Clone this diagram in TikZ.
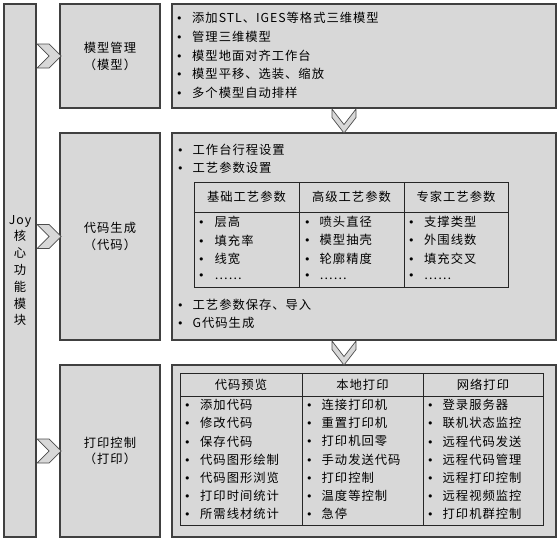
\documentclass[tikz,border=0pt]{standalone}
\usepackage{fontspec}
\setmainfont{Noto Sans CJK SC}[LetterSpace=8]
\newfontfamily\bulfont{DejaVu Sans}
\definecolor{boxgray}{RGB}{216,216,216}
\definecolor{edge}{RGB}{64,64,64}
\newcommand\fs{\fontsize{12.3}{16.8}\selectfont}
\newcommand\bul{{\bulfont\fontsize{11}{11}\selectfont •}}
% #1 name prefix, #2 bullet x, #3 text offset, #4 first y, #5 step, #6 items
\newcommand\itemlist[6]{%
  \foreach \t [count=\i] in {#6}{%
    \node[litem] (#1\i) at (#2, {#4+(\i-1)*#5}) {\makebox[#3][l]{\bul}\t};
  }}
\begin{document}
\begin{tikzpicture}[x=1pt,y=-1pt,
  box/.style={draw=edge, fill=boxgray, line width=1.1pt, inner sep=0pt, align=center, font=\fs, text=black},
  tbl/.style={draw=black!85, line width=0.9pt, inner sep=0pt},
  tline/.style={draw=black!85, line width=0.9pt},
  chev/.style={draw=black!70, fill=boxgray, line width=0.7pt, line join=miter},
  litem/.style={anchor=west, inner sep=0pt, font=\fs, text=black},
  hdr/.style={inner sep=0pt, font=\fs, text=black}]
\useasboundingbox (0,0) rectangle (560,542);

% left bar
\node[box, minimum width=32, minimum height=533] (core) at (20,270.5)
  {Joy\\核\\心\\功\\能\\模\\块};

% module boxes
\node[box, minimum width=100, minimum height=104] (b1) at (110,56) {模型管理\\（模型）};
\node[box, minimum width=100, minimum height=207] (b2) at (110,236.5) {代码生成\\（代码）};
\node[box, minimum width=100, minimum height=172] (b3) at (110,451) {打印控制\\（打印）};

% detail boxes
\node[box, minimum width=384, minimum height=104] (r1) at (364,56) {};
\node[box, minimum width=384, minimum height=207] (r2) at (364,236.5) {};
\node[box, minimum width=384, minimum height=172] (r3) at (364,451) {};

% right chevrons from core bar to module boxes
\foreach \b in {b1,b2,b3}{
  \draw[chev, shift={(core.east |- \b.west)}]
    (0.5,-12) -- (12.5,-12) -- (24.5,0) -- (12.5,12) -- (0.5,12) -- (12.5,0) -- cycle;
}
% down chevrons between detail boxes
\draw[chev, shift={(r1.south)}, xshift=-20pt]
  (-12,0.5) -- (0,16) -- (12,0.5) -- (12,9) -- (0,24.5) -- (-12,9) -- cycle;
\draw[chev, shift={(r2.south)}, xshift=-20pt]
  (-12,0.5) -- (0,16) -- (12,0.5) -- (12,9) -- (0,24.5) -- (-12,9) -- cycle;

% top list
\itemlist{a}{176}{16pt}{17.5}{18.9}{添加STL、IGES等格式三维模型,管理三维模型,模型地面对齐工作台,模型平移、选装、缩放,多个模型自动排样}

% middle
\itemlist{m}{177}{15.5pt}{150}{18}{工作台行程设置,工艺参数设置}
\itemlist{n}{177}{15.5pt}{305}{18}{工艺参数保存、导入,G代码生成}

\node[tbl, minimum width=314, minimum height=105] (t2) at (351,234.5) {};
\coordinate (t2h) at (194,212);
\draw[tline] (t2.west |- t2h) -- (t2.east |- t2h);
\draw[tline] (299,182) -- (299,287);
\draw[tline] (404,182) -- (404,287);
\node[hdr] (h21) at (246.5,197) {基础工艺参数};
\node[hdr] (h22) at (351.5,197) {高级工艺参数};
\node[hdr] (h23) at (456,197) {专家工艺参数};
\itemlist{p}{198}{16.5pt}{222}{18.3}{层高,填充率,线宽,……}
\itemlist{q}{304}{15.5pt}{222}{18.3}{喷头直径,模型抽壳,轮廓精度,……}
\itemlist{s}{408}{16pt}{222}{18.3}{支撑类型,外围线数,填充交叉,……}

% bottom table
\node[tbl, minimum width=363, minimum height=152] (t3) at (361.5,449) {};
\draw[tline] (180,396) -- (543,396);
\draw[tline] (302,373) -- (302,525);
\draw[tline] (423,373) -- (423,525);
\node[hdr] (h31) at (241,384.5) {代码预览};
\node[hdr] (h32) at (362.5,384.5) {本地打印};
\node[hdr] (h33) at (483,384.5) {网络打印};
\itemlist{u}{184}{16pt}{405}{18.17}{添加代码,修改代码,保存代码,代码图形绘制,代码图形浏览,打印时间统计,所需线材统计}
\itemlist{v}{306}{15.5pt}{405}{18.17}{连接打印机,重置打印机,打印机回零,手动发送代码,打印控制,温度等控制,急停}
\itemlist{w}{427}{15.5pt}{405}{18.17}{登录服务器,联机状态监控,远程代码发送,远程代码管理,远程打印控制,远程视频监控,打印机群控制}
\end{tikzpicture}
\end{document}
